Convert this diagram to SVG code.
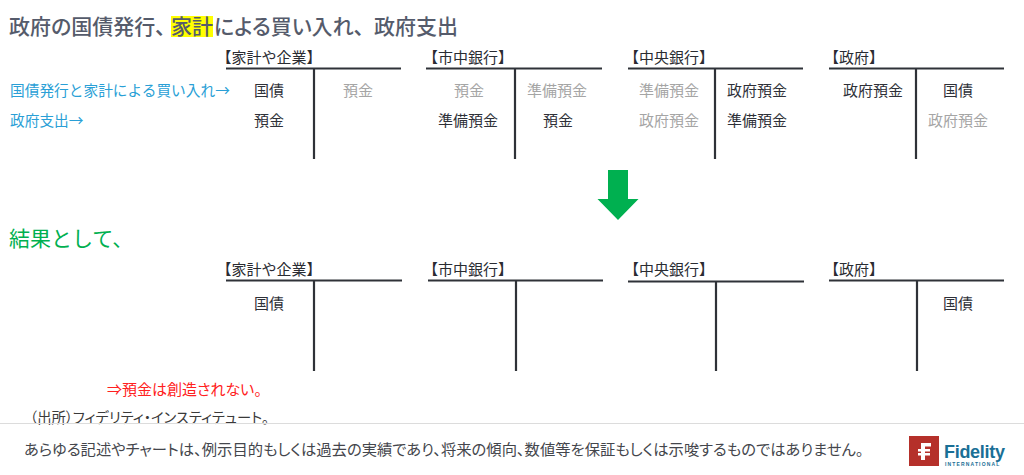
<svg xmlns="http://www.w3.org/2000/svg" width="1024" height="475" viewBox="0 0 1024 475">
<style>
text{font-family:"Noto Sans CJK JP","Noto Sans",sans-serif;font-size:15px;fill:#2e3038}
.c{text-anchor:middle}
.g{fill:#a5a5a5}
.h{font-size:15px;fill:#2a2c32}
.b{fill:#2a9fd6;font-size:14.700px}
.p{font-feature-settings:"palt"}
.t{stroke:#2f3238;stroke-width:2.200;fill:none}
.title{font-size:21px;fill:#555b6b;font-weight:500;font-feature-settings:"palt"}
.lg{font-family:"Liberation Sans",sans-serif;font-weight:700;fill:#1a6f96}
</style>
<rect width="1024" height="475" fill="#fff"/>
<g id="title">
<rect x="171" y="16" width="42" height="21" fill="#ffff00"/>
<text class="title" y="34"><tspan x="9">政府の国債発行、</tspan><tspan x="171">家計</tspan><tspan x="214">による買い入れ、</tspan><tspan x="374">政府支出</tspan></text>
</g>
<g id="row-labels">
<text class="b" x="10" y="95.500">国債発行と家計による買い入れ→</text>
<text class="b" x="10" y="126">政府支出→</text>
</g>
<g id="connectors">
<path class="t" d="M226 68.500H401M314 68.500V159"/>
<path class="t" d="M426 68.500H602M515 68.500V159"/>
<path class="t" d="M628 68.500H803M715 68.500V159"/>
<path class="t" d="M829 68.500H1004M916 68.500V159"/>
<path class="t" d="M226 280.500H402M314 280.500V371"/>
<path class="t" d="M428 280.500H603M516 280.500V371"/>
<path class="t" d="M628 281.500H804M716 281.500V371"/>
<path class="t" d="M829 280.500H1004M917 280.500V371"/>
</g>
<g id="node-household-before">
<text class="h" x="216.500" y="63">【家計や企業】</text>
<text class="c" x="269" y="95.500">国債</text>
<text class="c g" x="358" y="95.500">預金</text>
<text class="c" x="269" y="126">預金</text>
</g>
<g id="node-bank-before">
<text class="h" x="423" y="63">【市中銀行】</text>
<text class="c g" x="469" y="95.500">預金</text>
<text class="c g" x="557" y="95.500">準備預金</text>
<text class="c" x="468" y="126">準備預金</text>
<text class="c" x="558" y="126">預金</text>
</g>
<g id="node-central-before">
<text class="h" x="624" y="63">【中央銀行】</text>
<text class="c g" x="669" y="95.500">準備預金</text>
<text class="c" x="757" y="95.500">政府預金</text>
<text class="c g" x="669" y="126">政府預金</text>
<text class="c" x="757" y="126">準備預金</text>
</g>
<g id="node-gov-before">
<text class="h" x="824" y="63">【政府】</text>
<text class="c" x="873" y="95.500">政府預金</text>
<text class="c" x="958" y="95.500">国債</text>
<text class="c g" x="958" y="126">政府預金</text>
</g>
<g id="arrow">
<path d="M608 170H628V199H638.500L618 220L597.500 199H608Z" fill="#00b050"/>
</g>
<g id="result-label">
<text x="9" y="245.500" style="font-size:21px;fill:#00b050">結果として、</text>
</g>
<g id="node-household-after">
<text class="h" x="216.500" y="275">【家計や企業】</text>
<text class="c" x="269" y="308.500">国債</text>
</g>
<g id="node-bank-after">
<text class="h" x="423" y="275">【市中銀行】</text>
</g>
<g id="node-central-after">
<text class="h" x="624" y="275">【中央銀行】</text>
</g>
<g id="node-gov-after">
<text class="h" x="824" y="275">【政府】</text>
<text class="c" x="958" y="308.500">国債</text>
</g>
<g id="notes">
<text class="p" x="107" y="395" style="fill:#ff2020">⇒預金は創造されない。</text>
<text class="p" x="30" y="422.500" style="font-size:14.300px;fill:#3a3a3a">（出所）フィデリティ・インスティテュート。</text>
</g>
<g id="footer">
<path d="M0 423.500H1024" stroke="#dcdcdc" stroke-width="1"/>
<text class="p" x="24" y="455" style="font-size:15.320px;fill:#44464c">あらゆる記述やチャートは、例示目的もしくは過去の実績であり、将来の傾向、数値等を保証もしくは示唆するものではありません。</text>
</g>
<g id="logo">
<rect x="909" y="436" width="30" height="30" fill="#b5302a"/>
<path d="M921 443H931V446.500H925V449H930V451.500H925V453H930V455.500H925V460H921V455.500H918V453H921V451.500H918V449H921Z" fill="#fff"/>
<text class="lg" x="944" y="458" style="font-size:18px;letter-spacing:-.3px">Fidelity</text>
<text class="lg" x="945" y="466" style="font-size:5px;letter-spacing:1.150px">INTERNATIONAL</text>
</g>
</svg>
